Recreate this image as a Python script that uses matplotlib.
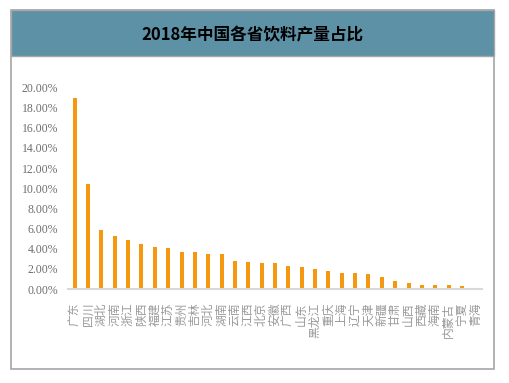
import matplotlib
matplotlib.use('Agg')
from matplotlib import pyplot as plt
from matplotlib.patches import Rectangle
from matplotlib.ticker import FuncFormatter

# 省份及饮料产量占比（%）
provinces = ['广东', '四川', '湖北', '河南', '浙江', '陕西', '福建', '江苏', '贵州', '吉林',
             '河北', '湖南', '云南', '江西', '北京', '安徽', '广西', '山东', '黑龙江', '重庆',
             '上海', '辽宁', '天津', '新疆', '甘肃', '山西', '西藏', '海南', '内蒙古', '宁夏', '青海']
share = [18.94, 10.43, 5.83, 5.26, 4.84, 4.50, 4.17, 4.07, 3.67, 3.67,
         3.44, 3.44, 2.78, 2.68, 2.61, 2.61, 2.31, 2.21, 2.02, 1.79,
         1.62, 1.56, 1.46, 1.22, 0.82, 0.63, 0.43, 0.43, 0.37, 0.27, 0.05]
yticks = [0, 2, 4, 6, 8, 10, 12, 14, 16, 18, 20]
title = '2018年中国各省饮料产量占比'

plt.rcParams['font.family'] = ['Noto Sans CJK SC', 'DejaVu Sans']
plt.rcParams['axes.unicode_minus'] = False

fig = plt.figure(figsize=(5.1, 3.83), dpi=100)
W, H = 510, 383

# 外框和标题栏（zorder 设低，放在坐标轴下面）
fig.patches.append(Rectangle((11 / W, (H - 369) / H), 483 / W, 359 / H, transform=fig.transFigure,
                             facecolor='white', edgecolor='#a6a6a6', linewidth=1.2, zorder=-2))
fig.patches.append(Rectangle((11 / W, (H - 56) / H), 483 / W, 46 / H, transform=fig.transFigure,
                             facecolor='#5d91a6', edgecolor='#a6a6a6', linewidth=1.0, zorder=-1))
fig.text(252.5 / W, (H - 35) / H, title, ha='center', va='center', fontsize=12,
         fontweight='bold', color='black')

ax = fig.add_axes([68 / W, (H - 289) / H, 414 / W, (289 - 87.5) / H])
x = list(range(len(provinces)))
ax.bar(x, share, width=0.3, color='#f5980f', zorder=2)

ax.set_xlim(-0.5, len(provinces) - 0.5)
ax.set_ylim(0, 20)
ax.set_yticks(yticks)
ax.yaxis.set_major_formatter(FuncFormatter(lambda v, p: '{:.2f}%'.format(v)))
for lab in ax.get_yticklabels():
    lab.set_family(['Liberation Serif'])
ax.tick_params(axis='y', length=0, pad=7, labelsize=8.5, labelcolor='#6e6e6e')

ax.set_xticks(x)
ax.set_xticklabels(provinces, rotation=90, fontsize=8.5, color='#999999')
ax.tick_params(axis='x', length=0, pad=10)

for s in ['top', 'right', 'left']:
    ax.spines[s].set_visible(False)
ax.spines['bottom'].set_color('#d9d9d9')
ax.spines['bottom'].set_linewidth(1.5)
ax.patch.set_alpha(0)

fig.savefig('out.png', dpi=100)
